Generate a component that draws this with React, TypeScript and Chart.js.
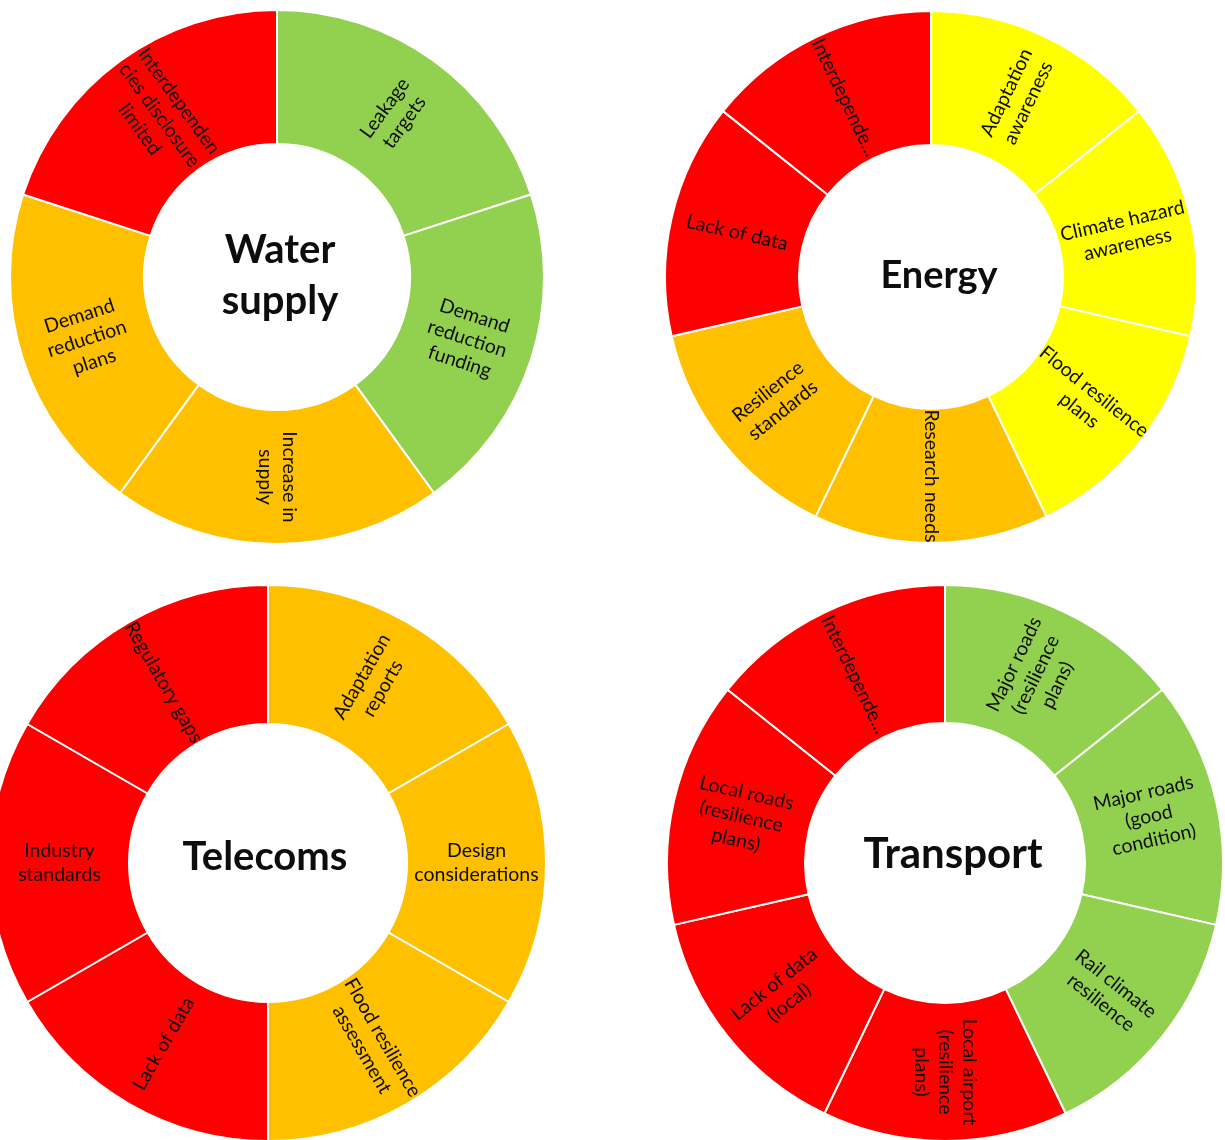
import React, { useEffect, useRef } from "react";
import { Chart, registerables } from "chart.js";

Chart.register(...registerables);

const RED = "#FF0000";
const AMBER = "#FFC000";
const GREEN = "#92D050";
const YELLOW = "#FFFF00";
const FONT = 'Lato, "Open Sans", "DejaVu Sans", sans-serif';
const TEXT = "#0d0d0d";

// ---- Water supply ----
const waterCategories = [
  ["Leakage", "targets"],
  ["Demand", "reduction", "funding"],
  ["Increase in", "supply"],
  ["Demand", "reduction", "plans"],
  ["Interdependen", "cies disclosure", "limited"],
];
const waterValues = [1, 1, 1, 1, 1];
const waterColors = [GREEN, GREEN, AMBER, AMBER, RED];
const waterTitle = ["Water", "supply"];

// ---- Energy ----
const energyCategories = [
  ["Adaptation", "awareness"],
  ["Climate hazard", "awareness"],
  ["Flood resilience", "plans"],
  ["Research needs"],
  ["Resilience", "standards"],
  ["Lack of data"],
  ["Interdepende..."],
];
const energyValues = [1, 1, 1, 1, 1, 1, 1];
const energyColors = [YELLOW, YELLOW, YELLOW, AMBER, AMBER, RED, RED];
const energyTitle = ["Energy"];

// ---- Telecoms ----
const telecomsCategories = [
  ["Adaptation", "reports"],
  ["Design", "considerations"],
  ["Flood resilience", "assessment"],
  ["Lack of data"],
  ["Industry", "standards"],
  ["Regulatory gaps"],
];
const telecomsValues = [1, 1, 1, 1, 1, 1];
const telecomsColors = [AMBER, AMBER, AMBER, RED, RED, RED];
const telecomsTitle = ["Telecoms"];

// ---- Transport ----
const transportCategories = [
  ["Major roads", "(resilience", "plans)"],
  ["Major roads", "(good", "condition)"],
  ["Rail climate", "resilience"],
  ["Local airport", "(resilience", "plans)"],
  ["Lack of data", "(local)"],
  ["Local roads", "(resilience", "plans)"],
  ["Interdepende..."],
];
const transportValues = [1, 1, 1, 1, 1, 1, 1];
const transportColors = [GREEN, GREEN, GREEN, RED, RED, RED, RED];
const transportTitle = ["Transport"];

const ringLabels = {
  id: "ringLabels",
  afterDatasetsDraw(chart: any, _args: any, opts: any) {
    const ctx = chart.ctx as CanvasRenderingContext2D;
    const meta = chart.getDatasetMeta(0);
    const labels = chart.data.labels as string[][];
    ctx.save();
    ctx.fillStyle = TEXT;
    ctx.textAlign = "center";
    ctx.textBaseline = "middle";
    ctx.font = `${opts.labelSize}px ${FONT}`;
    let cx = 0;
    let cy = 0;
    meta.data.forEach((arc: any, i: number) => {
      const p = arc.getProps(
        ["x", "y", "startAngle", "endAngle", "innerRadius", "outerRadius"],
        true
      );
      cx = p.x;
      cy = p.y;
      const mid = (p.startAngle + p.endAngle) / 2;
      const r = (p.innerRadius + p.outerRadius) / 2;
      const TAU = Math.PI * 2;
      let rot = ((mid % TAU) + TAU) % TAU;
      if (rot > Math.PI / 2 + 1e-6 && rot <= (3 * Math.PI) / 2 + 1e-6) rot -= Math.PI;
      const lines = labels[i];
      ctx.save();
      ctx.translate(p.x + Math.cos(mid) * r, p.y + Math.sin(mid) * r);
      ctx.rotate(rot);
      lines.forEach((ln: string, k: number) => {
        ctx.fillText(ln, 0, (k - (lines.length - 1) / 2) * opts.lineHeight);
      });
      ctx.restore();
    });
    ctx.font = `bold ${opts.titleSize}px ${FONT}`;
    const t: string[] = opts.title;
    t.forEach((ln, k) => {
      ctx.fillText(
        ln,
        cx + opts.titleDx,
        cy + (k - (t.length - 1) / 2) * opts.titleLine + opts.titleDy
      );
    });
    ctx.restore();
  },
};

type DonutProps = {
  cx: number;
  cy: number;
  r: number;
  inner: number;
  labels: string[][];
  values: number[];
  colors: string[];
  title: string[];
  titleSize: number;
  titleDx?: number;
  titleDy?: number;
};

function Donut({ cx, cy, r, inner, labels, values, colors, title, titleSize, titleDx = 0, titleDy = 0 }: DonutProps) {
  const ref = useRef<HTMLCanvasElement>(null);
  const side = Math.ceil(2 * r + 6);
  useEffect(() => {
    if (!ref.current) return;
    const chart = new Chart(ref.current, {
      type: "doughnut",
      data: {
        labels,
        datasets: [
          {
            data: values,
            backgroundColor: colors,
            borderColor: "#ffffff",
            borderWidth: 2,
          },
        ],
      },
      options: {
        responsive: false,
        animation: false,
        radius: r,
        cutout: inner,
        layout: { padding: 0 },
        plugins: {
          legend: { display: false },
          tooltip: { enabled: false },
          ringLabels: {
            labelSize: 19.5,
            lineHeight: 24,
            title,
            titleSize,
            titleLine: 51,
            titleDx,
            titleDy,
          },
        } as any,
      },
      plugins: [ringLabels],
    });
    return () => chart.destroy();
  }, []);
  return (
    <canvas
      ref={ref}
      width={side}
      height={side}
      style={{ position: "absolute", left: cx - side / 2, top: cy - side / 2, width: side, height: side }}
    />
  );
}

export default function App() {
  return (
    <div
      style={{
        position: "absolute",
        left: 0,
        top: 0,
        width: 1225,
        height: 1140,
        overflow: "hidden",
        background: "#ffffff",
      }}
    >
      <Donut cx={277} cy={277} r={267} inner={134} labels={waterCategories} values={waterValues} colors={waterColors} title={waterTitle} titleSize={40} titleDx={3} titleDy={-1} />
      <Donut cx={931} cy={277} r={266} inner={133} labels={energyCategories} values={energyValues} colors={energyColors} title={energyTitle} titleSize={38} titleDx={8} titleDy={-1} />
      <Donut cx={268} cy={863} r={278} inner={140} labels={telecomsCategories} values={telecomsValues} colors={telecomsColors} title={telecomsTitle} titleSize={40} titleDx={-3} titleDy={-6} />
      <Donut cx={945} cy={863} r={278} inner={141} labels={transportCategories} values={transportValues} colors={transportColors} title={transportTitle} titleSize={42} titleDx={8} titleDy={-9} />
    </div>
  );
}
